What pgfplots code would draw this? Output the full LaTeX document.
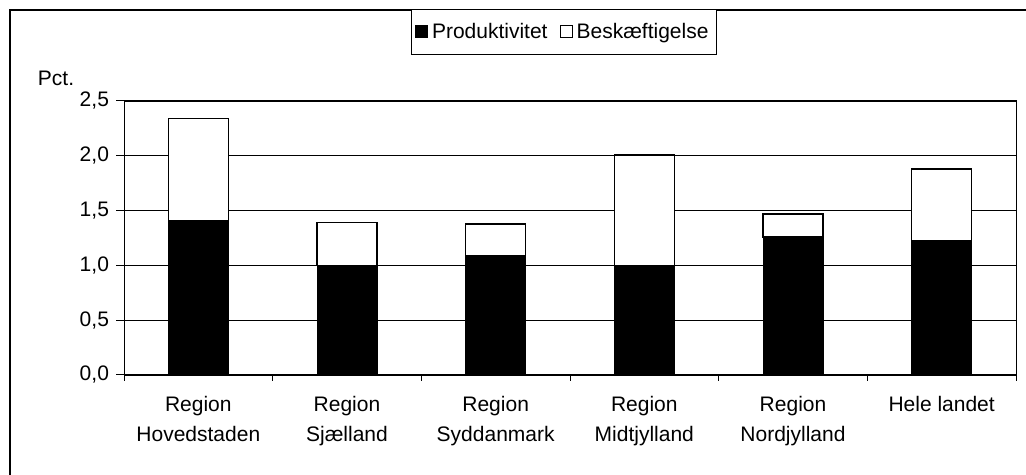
\documentclass[border=0pt]{standalone}
\usepackage{pgfplots}
\pgfplotsset{compat=1.18}
\usepackage{fontspec}
\setmainfont{Liberation Sans}
\begin{document}
\begin{tikzpicture}
\useasboundingbox (0pt,0pt) rectangle (513pt,237.5pt);
\draw[line width=0.6pt] (5pt,0pt) -- (5pt,232.5pt) -- (513pt,232.5pt);
\node[font=\fontsize{10.5}{13}\selectfont] at (28pt,198.5pt) {Pct.};
\begin{axis}[
  at={(62pt,50pt)}, anchor=south west,
  width=446pt, height=137pt, scale only axis,
  ybar stacked, bar width=30pt,
  xmin=-0.5, xmax=5.5, ymin=0, ymax=2.5,
  xtick={0,1,2,3,4,5},
  xticklabels={{Region\\Hovedstaden},{Region\\Sjælland},{Region\\Syddanmark},{Region\\Midtjylland},{Region\\Nordjylland},{Hele landet}},
  major x tick style={draw=none},
  minor xtick={-0.5,0.5,1.5,2.5,3.5,4.5,5.5},
  minor x tick style={black, line width=0.5pt},
  tick align=outside,
  minor tick length=3pt,
  major tick length=4pt,
  ytick={0,0.5,1,1.5,2,2.5},
  ymajorgrids, grid style={black, line width=0.45pt},
  axis line style={black, line width=0.5pt},
  y tick style={black, line width=0.5pt},
  xtick pos=bottom, ytick pos=left,
  yticklabel style={/pgf/number format/.cd, use comma, fixed, fixed zerofill, precision=1, assume math mode=true},
  ticklabel style={font=\fontsize{10.5}{15}\selectfont},
  xticklabel style={align=center, yshift=-3pt},
  legend style={at={(0.493,1.252)}, anchor=center, draw=black, line width=0.5pt,
    font=\fontsize{10.5}{13}\selectfont, inner xsep=2pt, inner ysep=4.5pt,
    /tikz/every even column/.append style={column sep=4pt}},
  legend columns=-1,
  legend image code/.code={\draw[#1, line width=0.5pt] (0pt,-3pt) rectangle (6pt,3pt);},
]
\addplot[fill=black, draw=black, line width=0.5pt] coordinates {(0,1.41) (1,1.00) (2,1.09) (3,1.00) (4,1.26) (5,1.22)};
\addplot[fill=white, draw=black, line width=0.8pt] coordinates {(0,0.93) (1,0.39) (2,0.29) (3,1.01) (4,0.21) (5,0.66)};
\legend{Produktivitet, Beskæftigelse}
\end{axis}
\end{tikzpicture}
\end{document}
